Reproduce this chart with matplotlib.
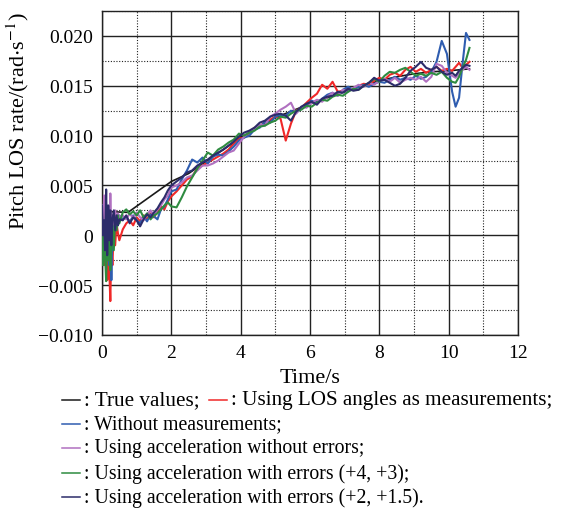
import os
os.environ["MPLBACKEND"] = "Agg"
import numpy as np
import matplotlib.pyplot as plt
from matplotlib.lines import Line2D
from matplotlib.ticker import MultipleLocator, FuncFormatter

plt.rcParams['font.family'] = ['Liberation Serif', 'DejaVu Serif']
plt.rcParams['mathtext.fontset'] = 'stix'

# time grid of the estimated curves (s)
t_est = [0.00, 0.03, 0.06, 0.09, 0.12, 0.15, 0.18, 0.21, 0.24, 0.27, 0.30, 0.34, 0.38, 0.42, 0.46, 0.50,
         0.60, 0.70, 0.80, 0.90, 1.00, 1.10, 1.20, 1.30, 1.40, 1.50, 1.60, 1.70, 1.80, 1.90, 2.00,
         2.15, 2.30, 2.45, 2.60, 2.75, 2.90, 3.05, 3.20, 3.35, 3.50, 3.65, 3.80, 3.95, 4.10, 4.25, 4.40, 4.55, 4.70, 4.85, 5.00,
         5.15, 5.30, 5.45, 5.60, 5.75, 5.90, 6.05, 6.20, 6.35, 6.50, 6.65, 6.80, 6.95, 7.10, 7.25, 7.40, 7.55, 7.70, 7.85, 8.00,
         8.15, 8.30, 8.45, 8.60, 8.75, 8.90, 9.05, 9.20, 9.35, 9.50, 9.65, 9.80, 9.95,
         10.10, 10.20, 10.30, 10.40, 10.50, 10.60]

# values below in 1e-3 rad/s
t_true = [0.0, 0.75, 2.0, 2.5, 3.0, 3.5, 4.0, 4.5, 5.0, 5.5, 6.0, 6.5, 7.0, 7.5, 8.0, 8.5, 9.0, 9.5, 10.0, 10.6]
y_true = [2.4, 2.3, 5.4, 6.2, 7.4, 8.6, 9.8, 10.8, 11.8, 12.5, 13.2, 13.8, 14.4, 15.0, 15.5, 15.9, 16.2, 16.4, 16.5, 16.7]

y_los = [1.5, -1.0, 2.0, -3.0, 0.5, -4.5, -2.0, -3.5, -6.6, -1.0, -3.0, 0.5, -1.0, 1.2, 0.2, -0.5,
         0.6, 1.2, 1.5, 1.0, 1.8, 1.4, 2.0, 1.6, 2.2, 1.8, 2.4, 2.9, 2.6, 3.4, 3.9,
         4.4, 5.0, 5.6, 5.9, 6.7, 7.0, 7.3, 7.6, 7.9, 8.2, 8.6, 9.2, 9.7, 9.8, 10.3, 10.8, 10.9, 11.4, 11.6, 11.9,
         11.7, 9.5, 11.2, 12.5, 12.8, 13.3, 13.8, 14.2, 15.1, 14.7, 15.4, 14.4, 14.5, 14.8, 14.6, 15.0, 15.2, 15.1, 15.5, 15.8,
         15.6, 16.1, 16.3, 16.0, 16.6, 16.9, 16.4, 16.7, 16.3, 16.6, 16.9, 16.5, 16.7,
         16.5, 16.9, 17.3, 16.8, 17.1, 17.4]

y_nomeas = [2.5, -2.0, 3.0, -1.5, 1.0, -2.5, -1.0, -3.0, 1.0, -4.5, 0.5, 2.0, 0.8, 1.6, 1.0, 2.0,
            1.6, 1.9, 1.3, 2.0, 1.5, 1.2, 1.9, 1.4, 2.1, 1.9, 1.6, 2.6, 2.9, 3.6, 4.4,
            4.6, 5.6, 6.5, 7.6, 7.3, 7.8, 7.2, 7.9, 8.1, 8.0, 8.4, 8.9, 9.5, 9.8, 10.0, 10.6, 10.8, 11.4, 11.3, 11.9,
            12.1, 12.0, 12.5, 12.3, 12.7, 13.1, 13.5, 13.3, 13.7, 14.1, 14.3, 14.0, 14.6, 14.9, 14.6, 14.9, 15.1, 14.9, 15.2, 15.4,
            15.3, 15.6, 15.9, 15.6, 15.8, 15.6, 16.0, 15.7, 15.9, 16.4, 17.4, 19.5, 18.2,
            14.4, 12.9, 13.8, 17.2, 20.3, 19.6]

y_acc = [3.0, -1.0, 4.0, 0.0, -2.5, 1.5, 0.5, -1.0, 4.2, 0.0, 2.0, 1.0, 2.5, 1.5, 2.2, 1.8,
         2.0, 1.6, 2.2, 1.7, 2.3, 1.8, 1.5, 2.1, 2.5, 2.0, 2.6, 3.0, 3.6, 4.0, 4.8,
         5.0, 5.3, 5.8, 6.0, 6.5, 7.0, 7.0, 7.2, 7.5, 7.9, 8.3, 8.5, 9.2, 9.9, 10.4, 10.6, 11.1, 11.0, 11.9, 12.2,
         12.6, 12.9, 13.3, 12.2, 12.9, 12.8, 13.3, 13.6, 13.4, 13.9, 14.3, 14.0, 14.6, 14.4, 14.8, 15.1, 14.9, 15.3, 15.1, 15.5,
         15.7, 15.4, 15.8, 15.3, 15.6, 15.8, 15.6, 15.9, 15.4, 15.9, 17.2, 17.0, 16.3,
         16.0, 15.8, 16.2, 16.6, 16.9, 16.6]

y_err43 = [2.0, -3.0, 1.0, -2.0, -4.6, 0.5, -2.5, 1.5, -3.5, -1.0, 1.0, -1.5, 1.5, 0.5, 2.0, 1.2,
           2.3, 2.6, 2.1, 2.4, 2.0, 2.5, 1.8, 2.2, 1.6, 2.0, 2.2, 2.6, 3.0, 3.3, 2.9,
           2.8, 3.8, 4.9, 5.8, 6.7, 7.5, 8.3, 8.0, 8.6, 8.9, 9.3, 9.6, 10.2, 10.0, 10.3, 10.5, 10.9, 11.0, 11.3, 11.5,
           11.9, 11.8, 12.2, 12.5, 12.6, 13.0, 12.9, 13.3, 13.6, 13.5, 13.9, 14.1, 14.0, 14.4, 14.7, 14.6, 15.0, 15.3, 15.7, 15.4,
           16.0, 16.4, 16.3, 16.6, 16.8, 16.4, 16.0, 16.2, 16.0, 16.3, 16.1, 16.4, 15.8,
           15.4, 15.3, 15.9, 16.8, 17.6, 18.8]

y_err2 = [3.0, 0.0, 1.5, -1.5, 4.6, -2.0, 3.0, -0.5, 2.5, -1.0, 1.5, 2.5, 0.5, 2.0, 1.0, 1.6,
          1.5, 2.0, 1.2, 1.8, 1.5, 0.9, 1.6, 2.1, 1.8, 2.3, 2.7, 3.3, 3.8, 4.5, 5.0,
          5.4, 5.8, 6.3, 6.5, 7.0, 7.3, 7.6, 8.0, 8.3, 8.6, 9.0, 9.4, 9.9, 10.3, 10.5, 10.8, 11.3, 11.5, 11.9, 12.1,
          12.2, 12.0, 11.5, 12.4, 12.9, 13.2, 13.4, 13.1, 13.7, 13.9, 14.0, 14.4, 14.3, 14.7, 14.5, 14.6, 15.0, 15.3, 15.8, 15.5,
          15.6, 15.3, 15.0, 15.2, 15.8, 16.5, 16.9, 17.4, 16.8, 16.6, 16.9, 16.4, 16.1,
          16.3, 16.0, 16.5, 16.8, 17.1, 17.0]

c_true, c_los, c_nomeas, c_acc, c_err43, c_err2 = '#1a1a1a', '#f02828', '#2f5db0', '#b070c0', '#2e8b40', '#2c2c6a'

W, H = 562, 510
fig = plt.figure(figsize=(W / 100, H / 100), dpi=100)
ax = fig.add_axes([102 / W, 1 - 336 / H, 416 / W, 324 / H])

s = 1e-3
lw = 1.5
ax.plot(t_true, np.array(y_true) * s, color=c_true, lw=1.2, zorder=3)
ax.plot(t_est, np.array(y_los) * s, color=c_los, lw=lw, zorder=3)
ax.plot(t_est, np.array(y_nomeas) * s, color=c_nomeas, lw=lw, zorder=3)
ax.plot(t_est, np.array(y_acc) * s, color=c_acc, lw=lw, zorder=3)
ax.plot(t_est, np.array(y_err43) * s, color=c_err43, lw=lw, zorder=3)
ax.plot(t_est, np.array(y_err2) * s, color=c_err2, lw=lw, zorder=3)

ax.set_xlim(0, 12)
ax.set_ylim(-0.010, 0.0225)
ax.xaxis.set_major_locator(MultipleLocator(2))
ax.xaxis.set_minor_locator(MultipleLocator(1))
ax.yaxis.set_major_locator(MultipleLocator(0.005))
ax.yaxis.set_minor_locator(MultipleLocator(0.0025))
ax.yaxis.set_major_formatter(FuncFormatter(lambda v, p: '0' if abs(v) < 1e-9 else f'{v:.3f}'.replace('-', '\u2212')))
ax.grid(which='major', color='#222222', lw=1.0, ls='-')
ax.grid(which='minor', color='#222222', lw=0.8, ls=(0, (1, 1.5)))
ax.set_axisbelow(True)
ax.tick_params(which='both', length=0, labelsize=14, pad=6.5)
for sp in ax.spines.values():
    sp.set_linewidth(1.0)
    sp.set_color('#222222')

ax.set_xlabel('Time/s', fontsize=16, labelpad=5)
fig.text(18 / W, 1 - 121 / H, r'Pitch LOS rate/(rad$\cdot$s$^{-1}$)', rotation=90,
         ha='center', va='center', fontsize=16)

# legend written as text lines under the axes
def fx(x):
    return x / W

def fy(y):
    return 1 - y / H

def key(x0, y, color):
    fig.add_artist(Line2D([fx(x0), fx(x0 + 18)], [fy(y), fy(y)], color=color, lw=1.1,
                          transform=fig.transFigure))

renderer = fig.canvas.get_renderer()
fs = 14.2
rows = [(401, 15.2, [(c_true, ': True values;'), (c_los, ': Using LOS angles as measurements;')]),
        (425, fs, [(c_nomeas, ': Without measurements;')]),
        (449, fs, [(c_acc, ': Using acceleration without errors;')]),
        (474, fs, [(c_err43, ': Using acceleration with errors (+4, +3);')]),
        (498, fs, [(c_err2, ': Using acceleration with errors (+2, +1.5).')])]
for y, size, items in rows:
    x = 62
    for col, label in items:
        key(x, y, col)
        t = fig.text(fx(x + 22), fy(y), label, ha='left', va='center', fontsize=size)
        x = t.get_window_extent(renderer).x1 + 9

fig.savefig('out.png', dpi=100)
